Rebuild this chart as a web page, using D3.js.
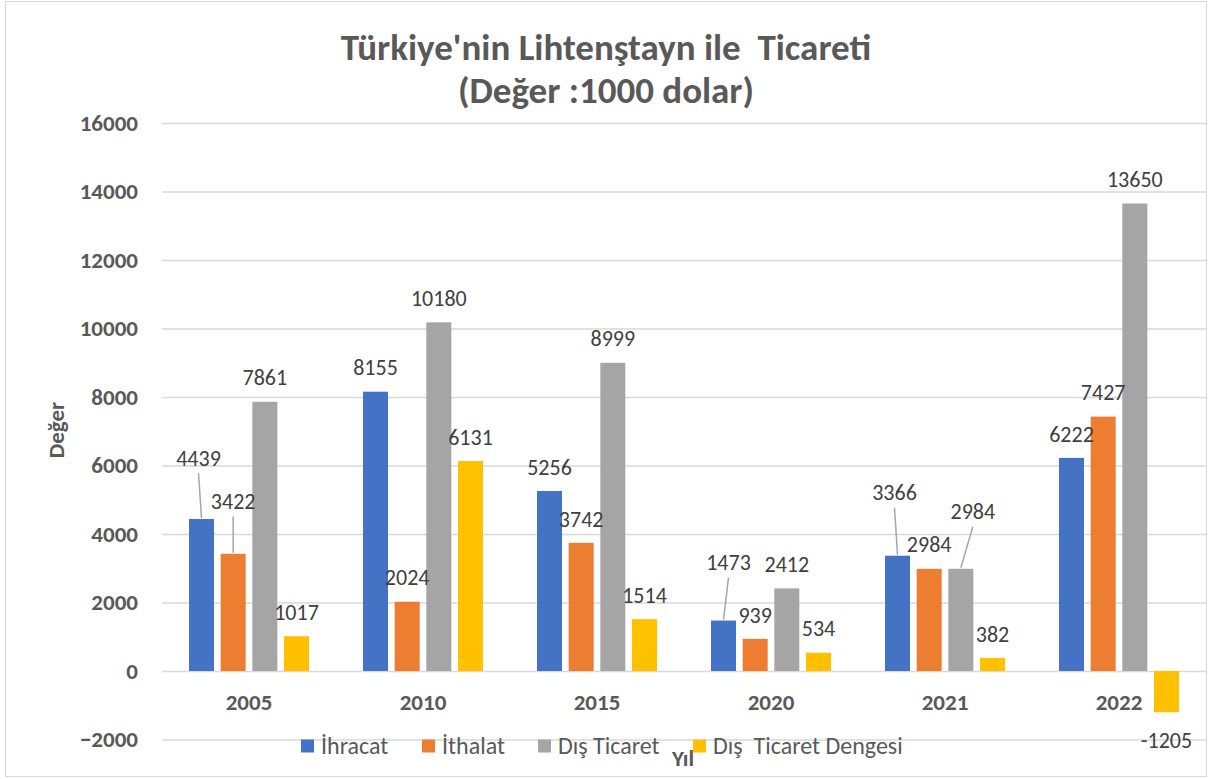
<!DOCTYPE html>
<html>
<head>
<meta charset="utf-8">
<script src="https://cdn.jsdelivr.net/npm/d3@7"></script>
<style>
    body { margin: 0; background: #ffffff; }
    text { font-family: Carlito, Calibri, Lato, sans-serif; }
    .heading { font-size: 37px; font-weight: bold; fill: #595959; }
    .ticks { font-size: 23px; font-weight: bold; fill: #595959; }
    .labels { font-size: 22px; fill: #404040; }
    .legend { font-size: 24px; fill: #595959; }
</style>
</head>
<body>
<script>
// chart values
var years = ["2005", "2010", "2015", "2020", "2021", "2022"];
var seriesNames = ["İhracat", "İthalat", "Dış Ticaret", "Dış  Ticaret Dengesi"];
var ihracat = [4439, 8155, 5256, 1473, 3366, 6222];
var ithalat = [3422, 2024, 3742, 939, 2984, 7427];
var disTicaret = [7861, 10180, 8999, 2412, 2984, 13650];
var disTicaretDengesi = [1017, 6131, 1514, 534, 382, -1205];
var yTicks = [-2000, 0, 2000, 4000, 6000, 8000, 10000, 12000, 14000, 16000];
var colors = ["#4472c4", "#ed7d31", "#a5a5a5", "#ffc000"];

// labels moved by hand in the original, with a leader line (series index, year index, dx, dy)
var movedLabels = [[0, 0, -3, -37], [1, 0, 0, -28], [0, 3, 5, -34], [0, 4, -3, -39], [2, 4, 12, -33]];

var allSeries = [ihracat, ithalat, disTicaret, disTicaretDengesi];

var width = 1210;
var height = 779;

var svg = d3.select("body").append("svg")
    .attr("width", width)
    .attr("height", height);

// outer border
svg.append("rect")
    .attr("x", 5.5)
    .attr("y", 1.5)
    .attr("width", 1201)
    .attr("height", 775)
    .style("fill", "none")
    .style("stroke", "#d9d9d9")
    .style("stroke-width", 1);

// scales
var x0 = d3.scaleBand()
    .domain(years)
    .range([162, 1206]);

var x1 = d3.scaleBand()
    .domain(d3.range(seriesNames.length))
    .range([27, x0.bandwidth() - 27])
    .paddingInner(0.21);

var y = d3.scaleLinear()
    .domain([-2000, 16000])
    .range([739.5, 123]);

// gridlines
var yAxis = d3.axisLeft(y)
    .tickValues(yTicks)
    .tickSize(-(1206 - 162))
    .tickPadding(24)
    .tickFormat(d3.format("d"));

var axisGroup = svg.append("g")
    .attr("transform", "translate(162,0)")
    .call(yAxis);

axisGroup.select(".domain").remove();
axisGroup.selectAll(".tick line")
    .style("stroke", "#d9d9d9")
    .style("stroke-width", 1.5);
axisGroup.selectAll(".tick text")
    .attr("class", "ticks")
    .attr("fill", null);

// bars
for (var s = 0; s < allSeries.length; s++) {
    svg.append("g")
        .selectAll("rect")
        .data(allSeries[s])
        .enter().append("rect")
        .style("fill", colors[s])
        .attr("x", function(d, i) { return x0(years[i]) + x1(s); })
        .attr("width", x1.bandwidth())
        .attr("y", function(d) { return y(Math.max(d, 0)); })
        .attr("height", function(d) { return Math.abs(y(d) - y(0)); });
}

// category labels
svg.append("g")
    .selectAll("text")
    .data(years)
    .enter().append("svg:text")
    .text(function(d) { return d; })
    .attr("class", "ticks")
    .attr("x", function(d) { return x0(d) + x0.bandwidth() / 2; })
    .attr("y", y(0) + 31)
    .attr("dy", "0.35em")
    .attr("text-anchor", "middle");

// data labels
function findMove(s, i) {
    for (var k = 0; k < movedLabels.length; k++) {
        if (movedLabels[k][0] == s && movedLabels[k][1] == i) return movedLabels[k];
    }
    return null;
}

var labelGroup = svg.append("g");
for (var s = 0; s < allSeries.length; s++) {
    allSeries[s].forEach(function(d, i) {
        let cx = x0(years[i]) + x1(s) + x1.bandwidth() / 2;
        let top = y(Math.max(d, 0));
        let ly = d >= 0 ? top - 24 : y(d) + 28;
        let lx = cx;
        let move = findMove(s, i);
        if (move) {
            lx += move[2];
            ly += move[3];
            labelGroup.append("line")
                .attr("x1", lx)
                .attr("y1", ly + 15)
                .attr("x2", cx)
                .attr("y2", top - 1)
                .style("stroke", "#a6a6a6")
                .style("stroke-width", 1.5);
        }
        labelGroup.append("svg:text")
            .text(d)
            .attr("class", "labels")
            .attr("x", lx)
            .attr("y", ly)
            .attr("dy", "0.35em")
            .attr("text-anchor", "middle");
    });
}

// heading
svg.append("svg:text")
    .text("Türkiye'nin Lihtenştayn ile  Ticareti")
    .attr("class", "heading")
    .attr("x", 606)
    .attr("y", 47)
    .attr("dy", "0.35em")
    .attr("text-anchor", "middle")
    .style("white-space", "pre");

svg.append("svg:text")
    .text("(Değer :1000 dolar)")
    .attr("class", "heading")
    .attr("x", 606)
    .attr("y", 90)
    .attr("dy", "0.35em")
    .attr("text-anchor", "middle");

// axis titles
svg.append("svg:text")
    .text("Değer")
    .attr("class", "ticks")
    .attr("transform", "translate(56,430) rotate(-90)")
    .attr("dy", "0.35em")
    .attr("text-anchor", "middle");

svg.append("svg:text")
    .text("Yıl")
    .attr("class", "ticks")
    .attr("x", 683)
    .attr("y", 758)
    .attr("dy", "0.35em")
    .attr("text-anchor", "middle");

// legend
var legendX = [301, 422, 538, 693];
var legend = svg.append("g")
    .selectAll("g")
    .data(seriesNames)
    .enter().append("g")
    .attr("transform", function(d, i) { return "translate(" + legendX[i] + ",746)"; });

legend.append("rect")
    .attr("x", 0)
    .attr("y", -6.5)
    .attr("width", 13)
    .attr("height", 13)
    .style("fill", function(d, i) { return colors[i]; });

legend.append("svg:text")
    .text(function(d) { return d; })
    .attr("class", "legend")
    .attr("x", 20)
    .attr("dy", "0.35em")
    .style("white-space", "pre");
</script>
</body>
</html>
